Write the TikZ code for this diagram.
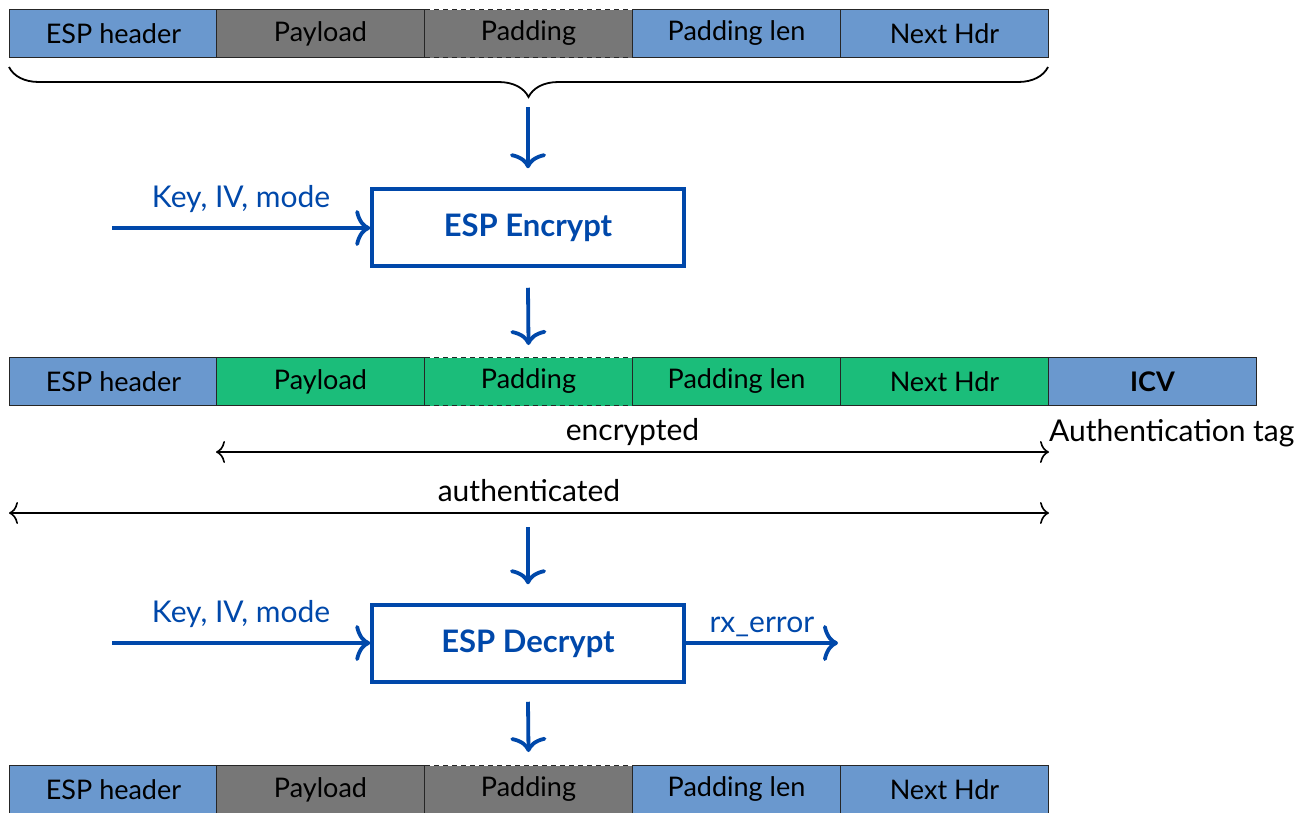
\documentclass[tikz,border=0pt]{standalone}
\usepackage{fontspec}
\setmainfont{Lato}
\usetikzlibrary{decorations.pathreplacing,arrows.meta}
\definecolor{cellblue}{RGB}{106,152,206}
\definecolor{cellgray}{RGB}{119,119,119}
\definecolor{cellgreen}{RGB}{27,189,122}
\definecolor{dblue}{RGB}{0,72,170}
\begin{document}
\begin{tikzpicture}[x=1pt,y=-1pt,
  font=\fontsize{30}{34}\selectfont,
  cell/.style={draw=black!85, line width=1pt, minimum width=208pt, minimum height=48pt,
    inner sep=0pt, anchor=north west, text=black, font=\fontsize{27}{30}\selectfont},
  bluecell/.style={cell, fill=cellblue},
  graycell/.style={cell, fill=cellgray},
  greencell/.style={cell, fill=cellgreen},
  padcell/.style={dashed, dash pattern=on 5pt off 4pt},
  proc/.style={draw=dblue, line width=3.5pt, minimum width=312pt, minimum height=77pt,
    text=dblue, font=\fontsize{31}{34}\selectfont\bfseries},
  barrow/.style={draw=dblue, line width=3.8pt,
    -{Computer Modern Rightarrow[length=15pt,width=36pt]}},
  blabel/.style={text=dblue, inner sep=2pt},
  span/.style={draw=black, line width=1.6pt,
    {Computer Modern Rightarrow[length=9pt,width=22pt]}-{Computer Modern Rightarrow[length=9pt,width=22pt]}},
]
\useasboundingbox (0,0) rectangle (1310,812);
% row 1
\node[bluecell] (a1) at (9,9) {ESP header};
\node[graycell] (a2) at (216,9) {Payload};
\node[graycell,padcell] (a3) at (424,9) {Padding};
\node[bluecell] (a4) at (632,9) {Padding len};
\node[bluecell] (a5) at (840,9) {Next Hdr};
\coordinate (b1) at (9,67);
\coordinate (b2) at (1048,67);
\draw[line width=1.8pt, decorate, decoration={brace, mirror, amplitude=30pt}] (b1) -- (b2);
\coordinate (t1) at (528,107);
% encrypt
\node[proc] (enc) at (528,227.5) {ESP Encrypt};
\coordinate (k1) at (112,228);
\draw[barrow] (t1) -- ([yshift=19pt]enc.north);
\draw[barrow] (k1) -- (k1 -| enc.west) node[midway, above=11pt, blabel] {Key, IV, mode};
% row 2
\node[bluecell] (c1) at (9,357) {ESP header};
\node[greencell] (c2) at (216,357) {Payload};
\node[greencell,padcell] (c3) at (424,357) {Padding};
\node[greencell] (c4) at (632,357) {Padding len};
\node[greencell] (c5) at (840,357) {Next Hdr};
\node[bluecell, font=\fontsize{27}{30}\selectfont\bfseries] (c6) at (1048,357) {ICV};
\draw[barrow] ([yshift=-20pt]enc.south) -- ([yshift=12pt]c3.north);
\draw[span] ([yshift=-46pt]c2.south west) -- ([yshift=-46pt]c5.south east)
  node[midway, above=2pt] {encrypted};
\node[anchor=west, inner sep=1pt] (atag) at (1048,433) {Authentication tag};
\draw[span] ([yshift=-107pt]c1.south west) -- ([yshift=-107pt]c5.south east)
  node[midway, above=7pt] {authenticated};
% decrypt
\node[proc] (dec) at (528,643.5) {ESP Decrypt};
\coordinate (t3) at (528,527);
\draw[barrow] (t3) -- ([yshift=19pt]dec.north);
\coordinate (k2) at (112,643);
\draw[barrow] (k2) -- (k2 -| dec.west) node[midway, above=11pt, blabel] {Key, IV, mode};
\coordinate (rx) at (838,643);
\draw[barrow] (dec.east |- rx) -- (rx) node[midway, above=2pt, blabel] {rx\_error};
% row 3
\node[bluecell] (d1) at (9,765) {ESP header};
\node[graycell] (d2) at (216,765) {Payload};
\node[graycell,padcell] (d3) at (424,765) {Padding};
\node[bluecell] (d4) at (632,765) {Padding len};
\node[bluecell] (d5) at (840,765) {Next Hdr};
\draw[barrow] ([yshift=-18pt]dec.south) -- ([yshift=13pt]d3.north);
\end{tikzpicture}
\end{document}
